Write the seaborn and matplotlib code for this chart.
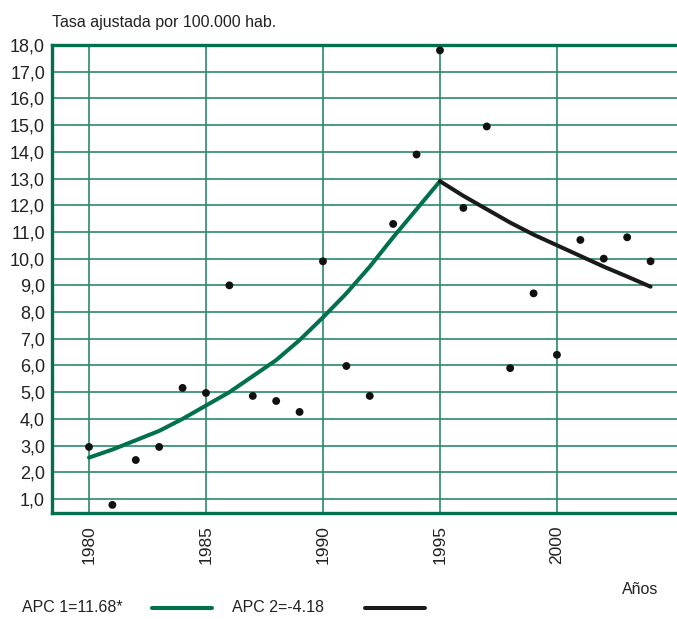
import numpy as np
import pandas as pd
import matplotlib
matplotlib.use('Agg')
import matplotlib.pyplot as plt
from matplotlib.lines import Line2D
import seaborn as sns

# datos observados (tasa ajustada por 100.000 hab.)
anios = list(range(1980, 2005))
tasas = [2.95, 0.78, 2.46, 2.95, 5.16, 4.97, 9.0, 4.86, 4.67, 4.26,
         9.9, 5.98, 4.86, 11.3, 13.9, 17.8, 11.9, 14.95, 5.9, 8.7,
         6.4, 10.7, 10.0, 10.8, 9.9]

# tendencia 1 (1980-1995)
anios_t1 = list(range(1980, 1996))
tend1 = [2.55, 2.85, 3.2, 3.55, 4.0, 4.5, 5.0, 5.6, 6.2, 6.95,
         7.8, 8.7, 9.7, 10.8, 11.85, 12.9]

# tendencia 2 (1995-2004)
anios_t2 = list(range(1995, 2005))
tend2 = [12.9, 12.35, 11.85, 11.35, 10.9, 10.5, 10.1, 9.7, 9.33, 8.95]

yticks = list(range(1, 19))
ytick_labels = ['%d,0' % v for v in yticks]
xticks = [1980, 1985, 1990, 1995, 2000]

verde = '#00704f'
verde_grid = '#2a8a6a'

sns.set_theme(style='white')
plt.rcParams['font.family'] = ['Liberation Sans', 'DejaVu Sans']

fig = plt.figure(figsize=(6.77, 6.19), dpi=100)
ax = fig.add_axes([52 / 677, 106 / 619, 625 / 677, 468 / 619])

df = pd.DataFrame({'anio': anios, 'tasa': tasas})
df1 = pd.DataFrame({'anio': anios_t1, 'tasa': tend1})
df2 = pd.DataFrame({'anio': anios_t2, 'tasa': tend2})

sns.lineplot(data=df1, x='anio', y='tasa', color=verde, linewidth=2.9, ax=ax, zorder=3,
             solid_joinstyle='round')
sns.lineplot(data=df2, x='anio', y='tasa', color='#1a1a1a', linewidth=2.9, ax=ax, zorder=3,
             solid_joinstyle='round')
sns.scatterplot(data=df, x='anio', y='tasa', color='#111111', s=32, edgecolor='none', ax=ax, zorder=4)

ax.set_xlim(1978.42, 2005.13)
ax.set_ylim(0.476, 18.0)
ax.set_xticks(xticks)
ax.set_xticklabels([str(x) for x in xticks], rotation=90, fontsize=12.5, color='#222222')
ax.set_yticks(yticks)
ax.set_yticklabels(ytick_labels, fontsize=13, color='#222222')
ax.tick_params(axis='x', length=0, pad=9)
ax.tick_params(axis='y', length=0, pad=5)
ax.set_xlabel('')
ax.set_ylabel('')

ax.grid(True, color=verde_grid, linewidth=1.2)
ax.set_axisbelow(True)
for lado in ['left', 'bottom', 'top']:
    ax.spines[lado].set_color(verde)
    ax.spines[lado].set_linewidth(2.4)
ax.spines['right'].set_visible(False)

fig.text(52 / 677, 1 - 22 / 619, 'Tasa ajustada por 100.000 hab.', fontsize=11.5,
         color='#222222', va='center', ha='left')
fig.text(640 / 677, 1 - 590 / 619, 'Años', fontsize=11.5, color='#222222',
         va='center', ha='center')

# leyenda
fig.text(22 / 677, 1 - 608 / 619, 'APC 1=11.68*', fontsize=11.5, color='#222222',
         va='center', ha='left')
fig.add_artist(Line2D([152 / 677, 212 / 677], [1 - 608 / 619] * 2, color=verde,
                      linewidth=2.9, transform=fig.transFigure))
fig.text(232 / 677, 1 - 608 / 619, 'APC 2=-4.18', fontsize=11.5, color='#222222',
         va='center', ha='left')
fig.add_artist(Line2D([365 / 677, 425 / 677], [1 - 608 / 619] * 2, color='#1a1a1a',
                      linewidth=2.9, transform=fig.transFigure))

plt.savefig('out.png', dpi=100)
